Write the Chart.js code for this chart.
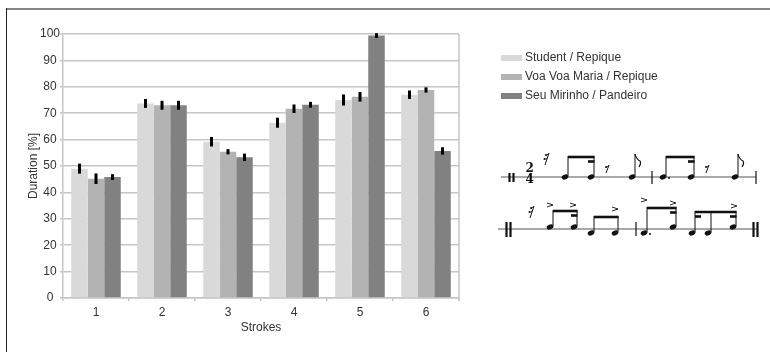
<!DOCTYPE html>
<html>
<head>
<meta charset="utf-8">
<script src="https://cdn.jsdelivr.net/npm/chart.js@4.4.1/dist/chart.umd.min.js"></script>
<style>
  html, body { margin: 0; padding: 0; background: #fff; }
  #wrap { position: relative; width: 770px; height: 352px; overflow: hidden; font-family: "Liberation Sans", Arial, sans-serif; }
  #chart { position: absolute; left: 0; top: 0; }
  .frame-top { position: absolute; left: 6px; top: 8px; width: 764px; height: 2px; background: #858585; }
  .frame-left { position: absolute; left: 6px; top: 8px; width: 1px; height: 344px; background: #222; }
  #legend { position: absolute; left: 501px; top: 48px; }
  .leg-row { position: relative; height: 19px; font-size: 12px; color: #333; }
  .leg-sw { position: absolute; left: 0; top: 7px; width: 21px; height: 6px; }
  .leg-tx { position: absolute; left: 24px; top: 2px; white-space: nowrap; }
  #notes { position: absolute; left: 0; top: 0; }
</style>
</head>
<body>
<div id="wrap">
  <canvas id="chart" width="770" height="352"></canvas>
  <div class="frame-top"></div>
  <div class="frame-left"></div>
  <div id="legend"></div>
  <svg id="notes" width="770" height="352" xmlns="http://www.w3.org/2000/svg"></svg>
</div>
<script>
// Dados
const strokes = ["1", "2", "3", "4", "5", "6"];
const seriesLabels = ["Student / Repique", "Voa Voa Maria / Repique", "Seu Mirinho / Pandeiro"];
const seriesColors = ["#d9d9d9", "#b3b3b3", "#818181"];

const student = [49.0, 73.7, 59.2, 66.4, 75.0, 77.0];
const studentErr = [1.9, 1.7, 1.8, 1.9, 2.1, 1.6];
const voa = [45.2, 73.0, 55.4, 71.7, 76.2, 78.8];
const voaErr = [2.0, 1.7, 1.0, 1.6, 1.8, 1.0];
const seu = [45.8, 73.0, 53.3, 73.2, 99.4, 55.7];
const seuErr = [1.1, 1.7, 1.4, 1.1, 0.9, 1.4];

const yMin = 0;
const yMax = 100;
const yStep = 10;

const values = [student, voa, seu];
const errors = [studentErr, voaErr, seuErr];

const gridColor = "#c6c6c6";
const textColor = "#333";
const fontFamily = "'Liberation Sans', Arial, sans-serif";

// Barras de erro (desenhadas com a escala y do próprio gráfico)
const errorBars = {
  id: "errorBars",
  afterDatasetsDraw(chart) {
    const ctx = chart.ctx;
    const yScale = chart.scales.y;
    ctx.save();
    ctx.strokeStyle = "#000";
    ctx.lineWidth = 3;
    chart.data.datasets.forEach((ds, i) => {
      const meta = chart.getDatasetMeta(i);
      meta.data.forEach((bar, j) => {
        const v = ds.data[j];
        const e = errors[i][j];
        ctx.beginPath();
        ctx.moveTo(bar.x, yScale.getPixelForValue(v + e));
        ctx.lineTo(bar.x, yScale.getPixelForValue(v - e));
        ctx.stroke();
      });
    });
    ctx.restore();
  }
};

// Borda direita da área do gráfico
const rightBorder = {
  id: "rightBorder",
  beforeDatasetsDraw(chart) {
    const { ctx, chartArea } = chart;
    ctx.save();
    ctx.strokeStyle = gridColor;
    ctx.lineWidth = 1.5;
    ctx.beginPath();
    ctx.moveTo(chartArea.right, chartArea.top);
    ctx.lineTo(chartArea.right, chartArea.bottom + 3);
    ctx.stroke();
    ctx.restore();
  }
};

new Chart(document.getElementById("chart"), {
  type: "bar",
  data: {
    labels: strokes,
    datasets: values.map((data, i) => ({
      label: seriesLabels[i],
      data,
      backgroundColor: seriesColors[i],
      borderWidth: 0,
      categoryPercentage: 0.75,
      barPercentage: 1
    }))
  },
  options: {
    responsive: false,
    animation: false,
    devicePixelRatio: 1,
    layout: { padding: { left: 22, top: 34, right: 311, bottom: 13 } },
    plugins: {
      legend: { display: false },
      tooltip: { enabled: false }
    },
    scales: {
      x: {
        grid: { display: true, drawOnChartArea: false, drawTicks: true, tickLength: 3, color: gridColor, lineWidth: 1.5 },
        border: { color: gridColor, width: 1.5 },
        ticks: { color: textColor, padding: 4, font: { family: fontFamily, size: 12 } },
        title: { display: true, text: "Strokes", color: textColor, font: { family: fontFamily, size: 12 } },
        afterFit(scale) { scale.height = 41; }
      },
      y: {
        min: yMin,
        max: yMax,
        grid: { color: gridColor, lineWidth: 1.5, tickLength: 3 },
        border: { color: gridColor, width: 1.5 },
        ticks: { stepSize: yStep, color: textColor, padding: 0, crossAlign: "center", font: { family: fontFamily, size: 12 } },
        title: { display: true, text: "Duration [%]", color: textColor, font: { family: fontFamily, size: 12 } },
        afterFit(scale) { scale.width = 41; }
      }
    }
  },
  plugins: [rightBorder, errorBars]
});

// Legenda em HTML
const legend = document.getElementById("legend");
seriesLabels.forEach((label, i) => {
  const row = document.createElement("div");
  row.className = "leg-row";
  row.innerHTML = `<span class="leg-sw" style="background:${seriesColors[i]}"></span><span class="leg-tx">${label}</span>`;
  legend.appendChild(row);
});

// Notação rítmica (decoração à direita)
const svg = document.getElementById("notes");
let out = "";
const ink = "#111";

function line(x1, y1, x2, y2, w, c) {
  out += `<line x1="${x1}" y1="${y1}" x2="${x2}" y2="${y2}" stroke="${c || ink}" stroke-width="${w}"/>`;
}
function head(x, y) {
  out += `<ellipse cx="${x}" cy="${y}" rx="3.4" ry="2.4" transform="rotate(-22 ${x} ${y})" fill="${ink}"/>`;
}
function note(x, y, top) {
  head(x, y);
  line(x + 3, y - 0.5, x + 3, top, 1);
}
function beam(x1, x2, y) {
  line(x1, y, x2, y, 2.6);
}
function flag(x, top) {
  out += `<path d="M${x + 3} ${top} q1 5 5 7 q1.5 2 -1 6" fill="none" stroke="${ink}" stroke-width="1.2"/>`;
}
function dot(x, y) {
  out += `<circle cx="${x}" cy="${y}" r="1" fill="${ink}"/>`;
}
function accent(x, y) {
  out += `<polyline points="${x - 3},${y - 2} ${x + 3},${y} ${x - 3},${y + 2}" fill="none" stroke="${ink}" stroke-width="0.9"/>`;
}
function rest16(x, y) {
  dot(x - 1, y + 2);
  dot(x - 2.5, y + 6);
  line(x + 2, y, x - 2, y + 12, 1);
  line(x - 1, y + 2.5, x + 2, y + 0.5, 0.8);
  line(x - 2.5, y + 6.5, x + 1, y + 4.5, 0.8);
}
function rest8(x, y) {
  dot(x - 1, y + 2);
  line(x + 2, y, x - 1, y + 8, 1);
  line(x - 1, y + 2.5, x + 2, y + 0.5, 0.8);
}
function doubleBar(x, y1, y2) {
  line(x, y1, x, y2, 2.2);
  line(x + 4, y1, x + 4, y2, 2.2);
}

// Linha 1
line(501, 177, 756, 177, 1, "#555");
doubleBar(509.5, 173, 182);
out += `<text x="525.5" y="171.5" font-family="DejaVu Serif" font-weight="bold" font-size="12" fill="${ink}">2</text>`;
out += `<text x="525.5" y="182.5" font-family="DejaVu Serif" font-weight="bold" font-size="12" fill="${ink}">4</text>`;
rest16(547, 153);
note(565, 177, 156); note(591, 177, 156);
beam(568, 594.5, 157); beam(588, 594.5, 161.5);
rest8(607, 165);
note(632, 177, 154); flag(632, 154);
line(652, 171, 652, 184, 1.2);
note(663, 177, 156); dot(669, 178); note(691, 177, 156);
beam(666, 694.5, 157); beam(688, 694.5, 161.5);
rest8(707, 165);
note(735, 177, 154); flag(735, 154);
line(756, 171, 756, 184, 1.2);

// Linha 2
line(498, 229, 757, 229, 1, "#555");
doubleBar(506.5, 222, 237);
rest16(532, 206);
note(550, 227, 210); note(574, 227, 210);
beam(553, 577.5, 211); beam(571, 577.5, 215.5);
accent(550, 205); accent(573, 205);
note(591, 233, 216); note(615, 233, 216);
beam(594, 618.5, 217);
accent(615, 209);
line(636, 222, 636, 236, 1.2);
note(644, 233, 207); dot(650, 234); note(673, 227, 207);
beam(647, 676.5, 208); beam(670, 676.5, 212.5);
accent(644, 200); accent(673, 203);
note(692, 233, 211); note(708, 233, 211); note(733, 227, 211);
beam(695, 736.5, 212); beam(695, 701, 216.5); beam(730, 736.5, 216.5);
accent(734, 206);
doubleBar(753.5, 222, 237);

svg.innerHTML = out;
</script>
</body>
</html>
